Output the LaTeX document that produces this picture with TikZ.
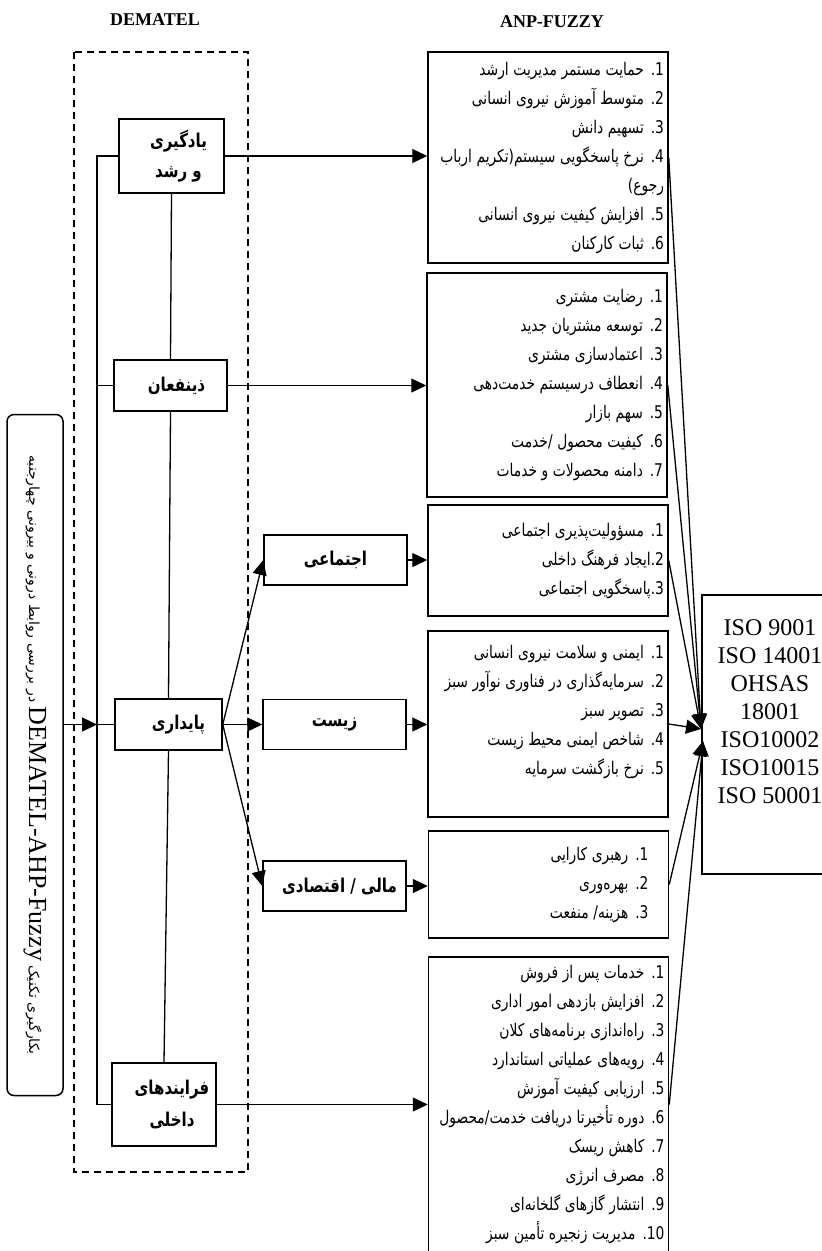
\documentclass[tikz,border=0pt]{standalone}
\usepackage{fontspec}
\usepackage{graphicx}
\setmainfont{Liberation Serif}
\newfontfamily\fa[Script=Arabic]{DejaVu Sans}
\TeXXeTstate=1
\usetikzlibrary{arrows.meta}
\newcommand{\faline}[1]{\scalebox{0.79}[1]{\beginR#1\endR}}
\newcommand{\numtag}[1]{\beginL{#1}\endL}
\tikzstyle{title} = [font=\bfseries\fontsize{18}{20}\selectfont]
\tikzstyle{factor} = [rectangle, draw=black, line width=1.5pt, align=center, font=\fa\bfseries\fontsize{19}{30}\selectfont]
\tikzstyle{sub} = [factor, minimum width=143pt, minimum height=50pt]
\tikzstyle{items} = [rectangle, draw=black, line width=1.5pt, minimum width=240pt, text width=232pt, align=right, font=\fa\fontsize{17.5}{29}\selectfont]
\tikzstyle{frame} = [dashed, dash pattern=on 7pt off 5pt, line width=1.5pt]
\tikzstyle{link} = [line width=1.3pt]
\tikzstyle{arrow} = [line width=1.3pt, -{Triangle[length=15pt, width=14pt]}]

\begin{document}
\begin{tikzpicture}[x=1pt, y=-1pt]
\useasboundingbox (0,0) rectangle (822,1251);

\node (demtitle) [title] at (155,20) {DEMATEL};
\node (anptitle) [title] at (552,22) {ANP-FUZZY};
\draw [frame] (74,52) rectangle (248,1172);

% four perspectives
\node (yad) [factor, minimum width=105pt, minimum height=74pt] at (171.5,156) {\hspace*{14pt}\faline{یادگیری}\\\hspace*{14pt}\faline{و رشد}};
\node (zin) [factor, minimum width=113pt, minimum height=51pt] at (170.5,385.5) {\hspace*{12pt}\faline{ذینفعان}};
\node (pay) [factor, minimum width=107pt, minimum height=51pt] at (168.5,724.5) {\hspace*{20pt}\faline{پایداری}};
\node (far) [factor, minimum width=104pt, minimum height=83pt, font=\fa\bfseries\fontsize{19}{32}\selectfont] at (164,1104.5) {\hspace*{16pt}\faline{فرایندهای}\\\hspace*{16pt}\faline{داخلی}};

% sustainability branches
\node (ejt) [sub] at (335.5,560) {\faline{اجتماعی}};
\node (zis) [sub] at (334.5,724.5) {\faline{زیست}};
\node (mal) [sub] at (334.5,886) {\hspace*{10pt}\faline{مالی / اقتصادی}};

\node (lbl) [draw=black, line width=1.5pt, rounded corners=7pt, minimum width=681pt, minimum height=56pt, rotate=-90, font=\fa\fontsize{14}{15}\selectfont] at (35,755)
  {\beginR بکارگیری تکنیک \numtag{\rmfamily\fontsize{26}{26}\selectfont DEMATEL-AHP-Fuzzy} در بررسی روابط درونی و بیرونی چهارجنبه\endR};

% indicator lists
\node (anp1) [items, minimum height=211pt] at (548,157.5) {
\faline{\numtag{1.} حمایت مستمر مدیریت ارشد}\\
\faline{\numtag{2.} متوسط آموزش نیروی انسانی}\\
\faline{\numtag{3.} تسهیم دانش}\\
\faline{\numtag{4.} نرخ پاسخگویی سیستم(تکریم ارباب}\\
\faline{رجوع)}\\
\faline{\numtag{5.} افزایش کیفیت نیروی انسانی}\\
\faline{\numtag{6.} ثبات کارکنان}};
\node (anp2) [items, minimum height=224pt] at (547,385) {
\faline{\numtag{1.} رضایت مشتری}\\
\faline{\numtag{2.} توسعه مشتریان جدید}\\
\faline{\numtag{3.} اعتمادسازی مشتری}\\
\faline{\numtag{4.} انعطاف درسیستم خدمت‌دهی}\\
\faline{\numtag{5.} سهم بازار}\\
\faline{\numtag{6.} کیفیت محصول /خدمت}\\
\faline{\numtag{7.} دامنه محصولات و خدمات}};
\node (anp3) [items, minimum height=111pt] at (548,560.5) {
\faline{\numtag{1.} مسؤولیت‌پذیری اجتماعی}\\
\faline{\numtag{2.}ایجاد فرهنگ داخلی}\\
\faline{\numtag{3.}پاسخگویی اجتماعی}};
\node (anp4) [items, minimum height=186pt] at (548,724) {
\faline{\numtag{1.} ایمنی و سلامت نیروی انسانی}\\
\faline{\numtag{2.} سرمایه‌گذاری در فناوری نوآور سبز}\\
\faline{\numtag{3.} تصویر سبز}\\
\faline{\numtag{4.} شاخص ایمنی محیط زیست}\\
\faline{\numtag{5.} نرخ بازگشت سرمایه}\\ \mbox{}};
\node (anp5) [items, minimum height=107pt, text width=200pt] at (548.5,884.5) {
\faline{\numtag{1.} رهبری کارایی}\\
\faline{\numtag{2.} بهره‌وری}\\
\faline{\numtag{3.} هزینه/ منفعت}};
\node (anp6) [items, minimum height=295pt] at (548.5,1104.5) {
\faline{\numtag{1.} خدمات پس از فروش}\\
\faline{\numtag{2.} افزایش بازدهی امور اداری}\\
\faline{\numtag{3.} راه‌اندازی برنامه‌های کلان}\\
\faline{\numtag{4.} رویه‌های عملیاتی استاندارد}\\
\faline{\numtag{5.} ارزیابی کیفیت آموزش}\\
\faline{\numtag{6.} دوره تأخیرتا دریافت خدمت/محصول}\\
\faline{\numtag{7.} کاهش ریسک}\\
\faline{\numtag{8.} مصرف انرژی}\\
\faline{\numtag{9.} انتشار گازهای گلخانه‌ای}\\
\faline{\numtag{10.} مدیریت زنجیره تأمین سبز}};

\node (iso) [draw=black, line width=1.5pt, minimum width=136pt, minimum height=279pt, align=center, font=\fontsize{24}{28}\selectfont] at (770,734.5)
  {ISO 9001\\ISO 14001\\OHSAS\\18001\\ISO10002\\ISO10015\\ISO 50001\\[18pt]\mbox{}};
\coordinate (isoup) at (701,729);
\coordinate (isodn) at (703,741);
\coordinate (spine) at (97,0);

% links between perspectives
\draw [link] (yad.west) -| (spine |- far.west) -- (far.west);
\draw [link] (zin.west) -- (spine |- zin.west);
\draw [link] (pay.west) -- (spine |- pay.west);
\draw [link] (yad.south) -- (zin.north);
\draw [link] (zin.south) -- (pay.north);
\draw [link] (pay.south) -- (far.north);
\draw [arrow] (lbl.north |- pay.west) -- (spine |- pay.west);

\draw [arrow] (yad.east) -- (yad.east -| anp1.west);
\draw [arrow] (zin.east) -- (zin.east -| anp2.west);
\draw [arrow] (pay.east) -- (ejt.west);
\draw [arrow] (pay.east) -- (zis.west);
\draw [arrow] (pay.east) -- (mal.west);
\draw [arrow] (far.east) -- (far.east -| anp6.west);
\draw [arrow] (ejt.east) -- (ejt.east -| anp3.west);
\draw [arrow] (zis.east) -- (zis.east -| anp4.west);
\draw [arrow] (mal.east) -- (mal.east -| anp5.west);

% lists to standards
\draw [arrow] (anp1.east) -- (isoup);
\draw [arrow] (anp2.east) -- (isoup);
\draw [arrow] (anp3.east) -- (isoup);
\draw [arrow] (anp4.east) -- (isoup);
\draw [arrow] (anp5.east) -- (isodn);
\draw [arrow] (anp6.east) -- (isodn);
\end{tikzpicture}
\end{document}
